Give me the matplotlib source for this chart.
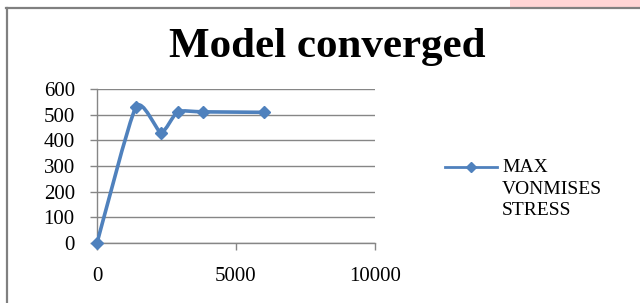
import numpy as np
import matplotlib
matplotlib.use('Agg')
import matplotlib.pyplot as plt
from matplotlib.path import Path
from matplotlib.patches import PathPatch, Rectangle
from matplotlib.lines import Line2D

# data
iterations = [0, 1400, 2300, 2900, 3800, 6000]
max_stress = [0, 530, 430, 511, 511, 509]
series_label = 'MAX\nVONMISES\nSTRESS'
title_text = 'Model converged'
x_ticks = [0, 5000, 10000]
y_ticks = [0, 100, 200, 300, 400, 500, 600]

line_color = '#4F81BD'
grid_color = '#868686'
plt.rcParams['font.family'] = ['Liberation Serif', 'DejaVu Serif']


def smooth_path(xs, ys, k=0.1):
    """Excel style smoothed line: cubic bezier through the points"""
    pts = np.column_stack([xs, ys]).astype(float)
    n = len(pts)
    verts = [pts[0]]
    codes = [Path.MOVETO]
    for i in range(n - 1):
        p0 = pts[i - 1] if i > 0 else pts[i]
        p1 = pts[i]
        p2 = pts[i + 1]
        p3 = pts[i + 2] if i + 2 < n else pts[i + 1]
        c1 = p1 + (p2 - p0) * k
        c2 = p2 - (p3 - p1) * k
        verts += [c1, c2, p2]
        codes += [Path.CURVE4] * 3
    return Path(verts, codes)


fig = plt.figure(figsize=(6.4, 3.03), dpi=100)
fig.patch.set_facecolor('white')

# pink strip at the top right and the gray frame of the chart
fig.patches.append(Rectangle((510 / 640, 1 - 7 / 303), 130 / 640, 7 / 303,
                             transform=fig.transFigure, facecolor='#FFD5D5',
                             edgecolor='none', zorder=0))
fig.add_artist(Line2D([6 / 640, 1], [1 - 8 / 303, 1 - 8 / 303], color='#808080',
                      linewidth=1.6, transform=fig.transFigure))
fig.add_artist(Line2D([7 / 640, 7 / 640], [0, 1 - 8 / 303], color='#808080',
                      linewidth=1.6, transform=fig.transFigure))

ax = fig.add_axes([97 / 640, 1 - 243 / 303, 278 / 640, 154 / 303])
ax.set_xlim(0, 10000)
ax.set_ylim(0, 600)
ax.set_xticks(x_ticks)
ax.set_yticks(y_ticks)
ax.yaxis.grid(True, color=grid_color, linewidth=1.0)
ax.set_axisbelow(True)
for side in ['top', 'right']:
    ax.spines[side].set_visible(False)
for side in ['left', 'bottom']:
    ax.spines[side].set_color(grid_color)
    ax.spines[side].set_linewidth(1.0)
ax.tick_params(axis='both', direction='out', length=5, width=1.0,
               color=grid_color, labelsize=15)
ax.tick_params(axis='x', pad=12)
ax.tick_params(axis='y', pad=11)

ax.add_patch(PathPatch(smooth_path(iterations, max_stress), facecolor='none',
                       edgecolor=line_color, linewidth=2.6, capstyle='round',
                       joinstyle='round', zorder=3))
ax.plot(iterations, max_stress, linestyle='none', marker='D', markersize=6.5,
        color=line_color, clip_on=False, zorder=4)

# legend drawn by hand so the key sits on the first line of the label
key_y = 1 - 167 / 303
fig.add_artist(Line2D([445 / 640, 497 / 640], [key_y, key_y], color=line_color,
                      linewidth=2.0, transform=fig.transFigure))
fig.add_artist(Line2D([471 / 640], [key_y], color=line_color, marker='D',
                      markersize=5.5, linestyle='none', transform=fig.transFigure))
fig.text(502 / 640, 1 - 159 / 303, series_label, ha='left', va='top',
         fontsize=14, linespacing=1.35)

fig.text(327 / 640, 1 - 57 / 303, title_text, ha='center', va='baseline',
         fontsize=31, fontweight='bold')

fig.savefig('out.png', dpi=100)
